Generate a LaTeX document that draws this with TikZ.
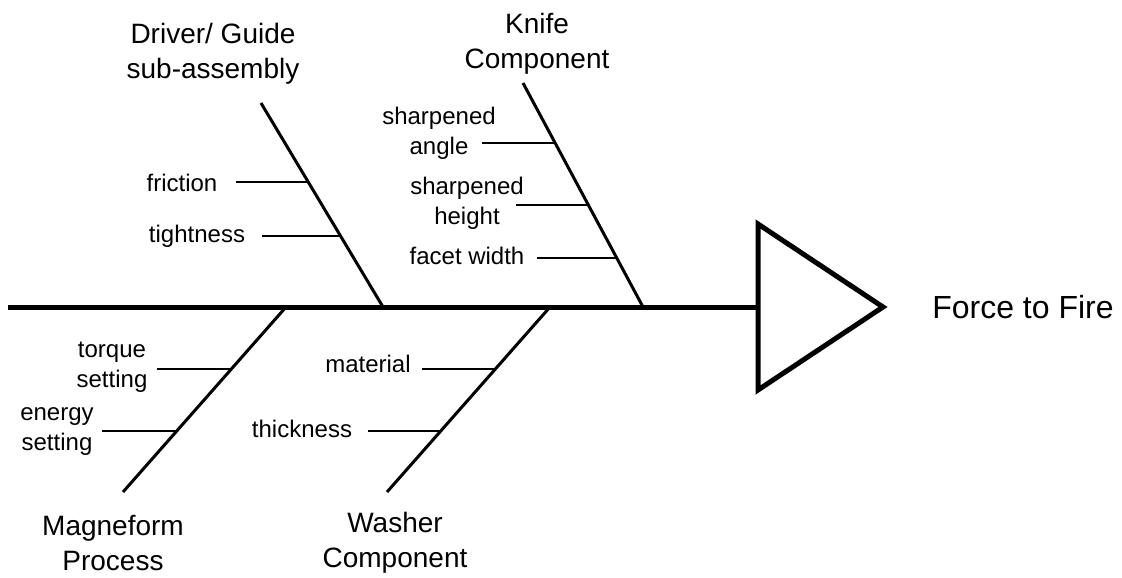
\documentclass[tikz,border=0pt]{standalone}
\usepackage{fontspec}
\setmainfont{Liberation Sans}
\begin{document}
\begin{tikzpicture}[x=1pt,y=-1pt,
  spine/.style={line width=5pt},
  bone/.style={line width=3pt},
  rib/.style={line width=1.6pt},
  head/.style={line width=5pt, line join=miter},
  cause/.style={font=\fontsize{28}{35}\selectfont, align=center, inner sep=0pt},
  factor/.style={font=\fontsize{24}{30}\selectfont, align=center, inner sep=0pt},
  effect/.style={font=\fontsize{32}{38}\selectfont, inner sep=0pt}]
\useasboundingbox (0,0) rectangle (1122,578);

% spine and head
\coordinate (tail) at (8,307);
\coordinate (headL) at (758,307);
\coordinate (headT) at (758,224);
\coordinate (headB) at (758,390);
\coordinate (headTip) at (883,307);
\draw[spine] (tail) -- (headL);
\draw[head] (headT) -- (headTip) -- (headB) -- cycle;
\node[effect] (effect) at (1023,307) {Force to Fire};

% bone end points
\coordinate (drvTop) at (261,103);  \coordinate (drvBot) at (383,307);
\coordinate (knfTop) at (523,83);   \coordinate (knfBot) at (643,307);
\coordinate (mgfTop) at (286,307);  \coordinate (mgfBot) at (123,492);
\coordinate (wshTop) at (550,307);  \coordinate (wshBot) at (387,492);

\draw[bone] (drvTop) -- (drvBot);
\draw[bone] (knfTop) -- (knfBot);
\draw[bone] (mgfTop) -- (mgfBot);
\draw[bone] (wshTop) -- (wshBot);

% cause titles
\node[cause] (drv) at (213,54) {Driver/ Guide\\sub-assembly};
\node[cause] (knf) at (537,44) {Knife\\Component};
\node[cause] (mgf) at (113,543) {Magneform\\Process};
\node[cause] (wsh) at (395,543) {Washer\\Component};

% factors of the driver/guide
\node[factor] (fric) at (182,183) {friction};
\node[factor] (tight) at (197,236) {tightness};
\coordinate (fricA) at (236,182);  \coordinate (fricB) at (308,182);
\coordinate (tightA) at (262,236); \coordinate (tightB) at (341,236);
\draw[rib] (fricA) -- (fricB);
\draw[rib] (tightA) -- (tightB);

% factors of the knife
\node[factor] (angle) at (439,133) {sharpened\\angle};
\node[factor] (height) at (467,203) {sharpened\\height};
\node[factor] (facet) at (467,256) {facet width};
\coordinate (angleA) at (482,143);  \coordinate (angleB) at (555,143);
\coordinate (heightA) at (516,205); \coordinate (heightB) at (588,205);
\coordinate (facetA) at (537,258);  \coordinate (facetB) at (616,258);
\draw[rib] (angleA) -- (angleB);
\draw[rib] (heightA) -- (heightB);
\draw[rib] (facetA) -- (facetB);

% factors of the magneform process
\node[factor] (torque) at (112,367) {torque\\setting};
\node[factor] (energy) at (57,432) {energy\\setting};
\coordinate (torqueA) at (157,369); \coordinate (torqueB) at (231,369);
\coordinate (energyA) at (102,431); \coordinate (energyB) at (177,431);
\draw[rib] (torqueA) -- (torqueB);
\draw[rib] (energyA) -- (energyB);

% factors of the washer
\node[factor] (mat) at (368,364) {material};
\node[factor] (thick) at (302,429) {thickness};
\coordinate (matA) at (422,369);   \coordinate (matB) at (495,369);
\coordinate (thickA) at (368,431); \coordinate (thickB) at (441,431);
\draw[rib] (matA) -- (matB);
\draw[rib] (thickA) -- (thickB);
\end{tikzpicture}
\end{document}
